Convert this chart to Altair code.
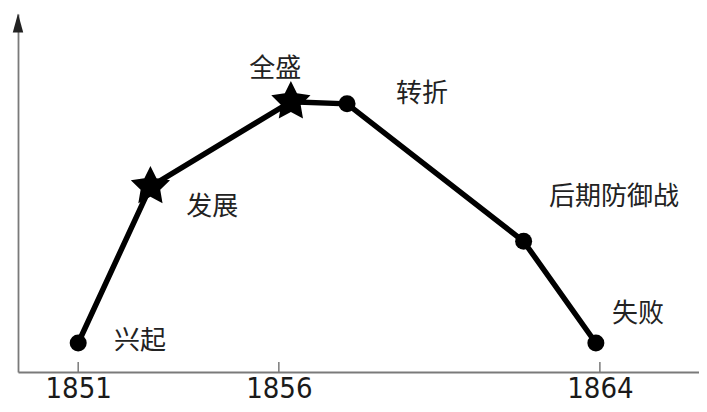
import altair as alt
import pandas as pd

# --- data ---
years = [1851.0, 1852.8, 1856.3, 1857.7, 1862.1, 1863.9]
levels = [8.1, 51.8, 75.5, 74.9, 36.5, 8.1]
markers = ["circle", "star", "star", "circle", "circle", "circle"]

label_text = ["兴起", "发展", "全盛", "转折", "后期防御战", "失败"]
label_x = [1852.54, 1854.34, 1855.91, 1859.57, 1864.35, 1864.95]
label_y = [8.6, 46.2, 84.7, 77.7, 49.0, 16.2]

tick_years = [1851, 1856, 1864]
tick_top = [2.8, 2.8, 2.8]
tick_base = [0, 0, 0]

pts = pd.DataFrame({"year": years, "level": levels, "marker": markers})
labs = pd.DataFrame({"year": label_x, "level": label_y, "text": label_text})
ticks = pd.DataFrame({"year": tick_years, "level": tick_top, "base": tick_base})

AX = "#7a7a7a"
STAR = ("M0,-1L0.294,-0.405L0.951,-0.309L0.476,0.155L0.588,0.809L0,0.5"
        "L-0.588,0.809L-0.476,0.155L-0.951,-0.309L-0.294,-0.405Z")

X = alt.X("year:Q",
          scale=alt.Scale(domain=[1849.5, 1866.47], nice=False, zero=False),
          axis=alt.Axis(values=tick_years, format="d", title=None, grid=False,
                        ticks=False, domainColor=AX, domainWidth=1.8,
                        labelFont="Liberation Sans Narrow, DejaVu Sans Condensed, Open Sans",
                        labelFontSize=29, labelColor="#1a1a1a",
                        labelBaseline="alphabetic", labelPadding=25, labelFlush=False))
Y = alt.Y("level:Q",
          scale=alt.Scale(domain=[0, 100], nice=False, zero=False),
          axis=alt.Axis(title=None, labels=False, ticks=False, grid=False,
                        domainColor=AX, domainWidth=1.8))

tickmarks = alt.Chart(ticks).mark_rule(color=AX, strokeWidth=1.5).encode(
    x=X, y=Y, y2="base:Q")

line = alt.Chart(pts).mark_line(color="black", strokeWidth=5.5, strokeJoin="miter").encode(
    x=X, y=Y)

labels = alt.Chart(labs).mark_text(font="Noto Sans CJK SC", fontSize=26, color="#222",
                                   align="center", baseline="middle").encode(
    x=X, y=Y, text="text:N")

dots = alt.Chart(pts).transform_filter(alt.datum.marker == "circle").mark_point(
    shape="circle", filled=True, color="black", size=289, opacity=1).encode(x=X, y=Y)

stars = alt.Chart(pts).transform_filter(alt.datum.marker == "star").mark_point(
    shape=STAR, filled=True, color="black", size=1700, opacity=1).encode(x=X, y=Y)

arrow = alt.Chart(pd.DataFrame({"a": [0]})).mark_point(
    shape="M0,-1L0.55,1L-0.55,1Z", filled=True, color="#222", size=361, opacity=1).encode(
    x=alt.value(0), y=alt.value(9))

chart = alt.layer(tickmarks, line, labels, dots, stars, arrow).properties(
    width=681, height=358,
    autosize=alt.AutoSizeParams(type="none"),
    padding={"left": 10, "top": 6, "right": 0, "bottom": 32},
    background="white",
).configure_view(stroke=None)

chart.save("out.html", embed_options={"renderer": "svg", "actions": False})
